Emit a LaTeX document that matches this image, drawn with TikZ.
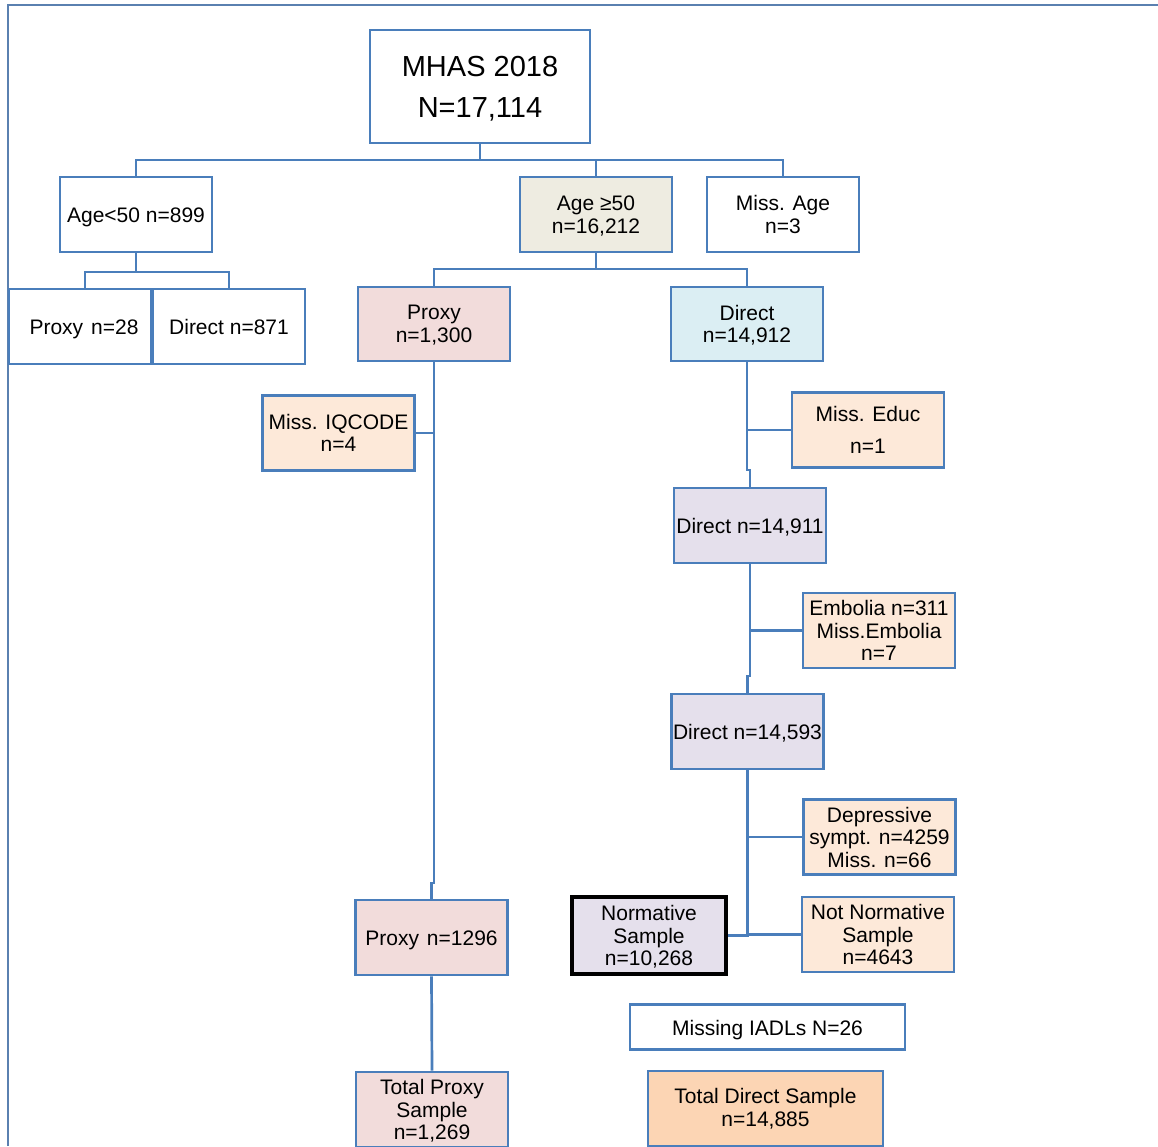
\documentclass[tikz,border=0pt]{standalone}
\usepackage{fontspec}
\setmainfont{Liberation Sans}
\definecolor{bdr}{HTML}{4A7EBB}
\definecolor{frameC}{HTML}{5A80B0}
\definecolor{ageF}{HTML}{EEECE1}
\definecolor{proxyF}{HTML}{F2DCDB}
\definecolor{directF}{HTML}{DBEEF3}
\definecolor{missF}{HTML}{FDE9D9}
\definecolor{lilacF}{HTML}{E5E0EC}
\definecolor{totalF}{HTML}{FCD5B4}
\begin{document}
\begin{tikzpicture}[x=1pt,y=-1pt,
  box/.style={draw=bdr, line width=2.7pt, minimum width=152, minimum height=75,
    inner sep=0pt, align=center, font=\fontsize{21}{22.5}\selectfont, text=black},
  one/.style={text height=20pt, text depth=4pt},
  nd/.style={text depth=0pt},
  conn/.style={draw=bdr, line width=2.7pt},
  framestyle/.style={draw=frameC, line width=2pt}]
\useasboundingbox (0,0) rectangle (1158,1146);
\draw[framestyle] (7.5,1146) -- (7.5,5) -- (1158,5);

\node[box, nd, minimum width=220, minimum height=113, font=\fontsize{29}{41}\selectfont] (mhas) at (480,86.5) {MHAS 2018\\N=17,114};
\node[box, one] (age1) at (136,214.5) {Age<50 n=899};
\node[box, nd, fill=ageF] (age2) at (596,214.5) {Age ≥50\\n=16,212};
\node[box] (missage) at (783,214.5) {Miss. Age\\n=3};
\node[box, one, minimum width=142] (proxy28) at (80,326.5) {\hspace{8pt}Proxy\hspace{8pt}n=28};
\node[box, one] (direct871) at (229,326.5) {Direct n=871};
\node[box, nd, fill=proxyF, minimum height=74] (proxy1300) at (434,324) {Proxy\\n=1,300};
\node[box, nd, fill=directF, minimum height=74] (direct14912) at (747,324) {Direct\\n=14,912};
\node[box, fill=missF] (missiq) at (338.5,433) {Miss. IQCODE\\n=4};
\node[box, fill=missF] (misseduc) at (868,430) {Miss. Educ\\[9.5pt]n=1};
\node[box, one, fill=lilacF] (direct14911) at (750,525.5) {Direct n=14,911};
\node[box, fill=missF] (embolia) at (879,630.5) {Embolia n=311\\Miss.Embolia\\n=7};
\node[box, one, fill=lilacF] (direct14593) at (747.5,731.5) {Direct n=14,593};
\node[box, fill=missF] (depress) at (879.5,837) {Depressive\\sympt. n=4259\\Miss. n=66};
\node[box, nd, fill=lilacF, draw=black, line width=4.3pt, minimum width=154, minimum height=77] (normative) at (649,935.5) {Normative\\Sample\\n=10,268};
\node[box, fill=missF] (notnorm) at (878,934.5) {Not Normative\\Sample\\n=4643};
\node[box, one, fill=proxyF] (proxy1296) at (431.5,937.5) {Proxy\hspace{8pt}n=1296};
\node[box, nd, fill=proxyF] (totalproxy) at (432,1109.5) {Total Proxy\\Sample\\n=1,269};
\node[box, one, minimum width=275, minimum height=45] (missiadl) at (767.5,1027) {Missing IADLs N=26};
\node[box, fill=totalF, minimum width=235] (totaldirect) at (765.5,1108.5) {Total Direct Sample\\n=14,885};

% top split
\coordinate (t1) at (480,160);
\draw[conn] (mhas.south) -- (t1);
\draw[conn] (age1.north) |- (t1) -| (missage.north);
\draw[conn] (age2.north) -- (age2.north |- t1);

% Age<50 split
\coordinate (t2) at (136,272);
\draw[conn] (age1.south) -- (t2);
\draw[conn] ([xshift=5pt]proxy28.north) |- (t2) -| (direct871.north);

% Age>=50 split
\coordinate (t3) at (596,269);
\draw[conn] (age2.south) -- (t3);
\draw[conn] (proxy1300.north) |- (t3) -| (direct14912.north);

% proxy trunk
\coordinate (pj) at (434,883);
\draw[conn] (proxy1300.south) -- (pj) -- (431.5,883) -- (proxy1296.north);
\draw[conn] (missiq.east) -- (missiq.east -| pj);
\draw[conn] (proxy1296.south) -- (totalproxy.north);

% direct trunk
\coordinate (dj1) at (747,470);
\coordinate (dj2) at (750,676);
\draw[conn] (direct14912.south) -- (dj1) -- (750,470) -- (direct14911.north);
\draw[conn] (misseduc.west) -- (misseduc.west -| dj1);
\draw[conn] (direct14911.south) -- (dj2) -- (747.5,676) -- (direct14593.north);
\draw[conn] (embolia.west) -- (embolia.west -| dj2);
\draw[conn] (direct14593.south) |- (normative.east);
\draw[conn] (depress.west) -- (depress.west -| direct14593.south);
\draw[conn] (notnorm.west) -- (notnorm.west -| direct14593.south);
\end{tikzpicture}
\end{document}
